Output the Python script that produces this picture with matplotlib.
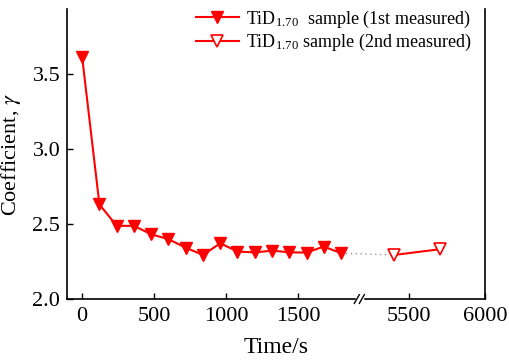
import numpy as np
import matplotlib
matplotlib.use("Agg")
import matplotlib.pyplot as plt

plt.rcParams['font.family'] = ['Liberation Serif', 'DejaVu Serif']
plt.rcParams['mathtext.fontset'] = 'stix'

# data
t1 = [0, 120, 240, 360, 480, 600, 720, 840, 960, 1080, 1200, 1320, 1440, 1560, 1680, 1800]
g1 = [3.61, 2.63, 2.487, 2.487, 2.431, 2.398, 2.342, 2.293, 2.371, 2.316, 2.310, 2.322,
      2.311, 2.309, 2.349, 2.305]
t2 = [5400, 5700]
g2 = [2.293, 2.331]

xticks = [0, 500, 1000, 1500, 5500, 6000]
yticks = [2.0, 2.5, 3.0, 3.5]

# broken x axis: [.., b1] and [b2, ..] put next to each other
b1 = 1930
b2 = 5175
k = 1.056


def tx(t):
    t = np.asarray(t, dtype=float)
    return np.where(t <= b1, t, b1 + (t - b2) * k)


fig = plt.figure(figsize=(5.09, 3.62), dpi=100)
ax = fig.add_axes([0.132, 0.174, 0.821, 0.801])

red = '#ff0000'
ax.plot(tx([t1[-1], t2[0]]), [g1[-1], g2[0]], ls=(0, (1, 2.5)), color='#999999', lw=1.0, zorder=1)
ax.plot(tx(t1), g1, color=red, lw=1.5, marker='v', ms=9, mfc=red, mec=red,
        label=r'TiD$_{\mathregular{1.70}}$  sample (1st measured)', zorder=3)
ax.plot(tx(t2), g2, color=red, lw=1.5, marker='v', ms=9, mfc='white', mec=red, mew=1.2,
        label=r'TiD$_{\mathregular{1.70}}$ sample (2nd measured)', zorder=3)

ax.set_xlim(-104, float(tx(6000)))
ax.set_ylim(2.0, 3.93)
ax.set_xticks(tx(xticks))
ax.set_xticklabels([str(v) for v in xticks])
ax.set_yticks(yticks)
ax.set_yticklabels(['%.1f' % v for v in yticks])
ax.tick_params(direction='in', labelsize=16, length=4, width=1)
ax.tick_params(axis='x', pad=6)
ax.tick_params(axis='y', pad=5)
ax.spines['top'].set_visible(False)
for s in ['left', 'right', 'bottom']:
    ax.spines[s].set_linewidth(1.2)

ax.set_xlabel('Time/s', fontsize=17, labelpad=8)
ax.set_ylabel(r'Coefficient, $\gamma$', fontsize=16, labelpad=7)

# break mark on the bottom axis
xb = (b1 - ax.get_xlim()[0]) / (ax.get_xlim()[1] - ax.get_xlim()[0])
ax.plot([xb - 0.006, xb + 0.006], [0, 0], color='white', lw=2.5, transform=ax.transAxes,
        clip_on=False, zorder=5)
for dx in (-0.007, 0.005):
    ax.plot([xb + dx - 0.006, xb + dx + 0.006], [-0.015, 0.015], color='black', lw=1.0,
            transform=ax.transAxes, clip_on=False, zorder=6)

ax.legend(loc='upper right', bbox_to_anchor=(0.999, 1.045), frameon=False, fontsize=13,
          handlelength=2.4, handletextpad=0.4, labelspacing=0.12, borderpad=0.2)

fig.savefig('out.png', dpi=100)
